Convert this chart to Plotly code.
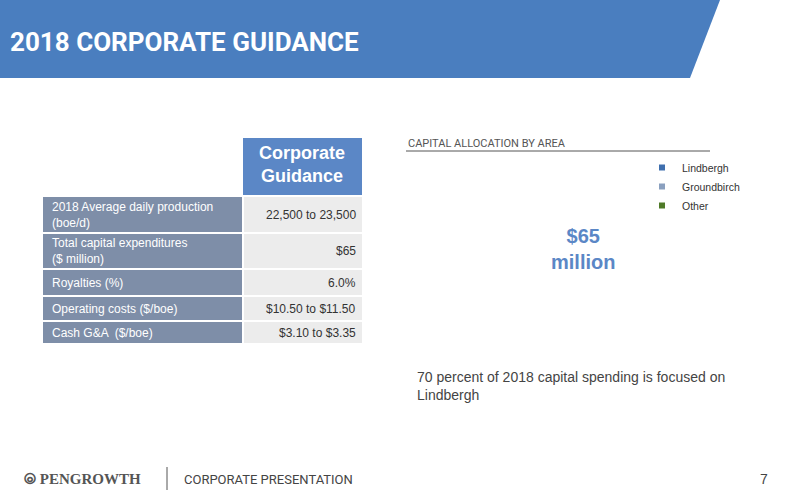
import plotly.graph_objects as go

areas = ["Lindbergh", "Groundbirch", "Other"]
alloc = [70, 20, 10]
legend_colors = ["#3f6fae", "#8aa0bf", "#4f7a28"]
row_labels = ["2018 Average daily production<br>(boe/d)", "Total capital expenditures<br>($ million)",
              "Royalties (%)", "Operating costs ($/boe)", "Cash G&A  ($/boe)"]
row_values = ["22,500 to 23,500", "$65", "6.0%", "$10.50 to $11.50", "$3.10 to $3.35"]
row_bounds = [(197, 232), (234, 268), (270, 295), (297, 320), (322, 343)]

W, H = 800, 500
px = lambda x: x / W
py = lambda y: 1 - y / H

fig = go.Figure()
fig.add_trace(go.Pie(labels=areas, values=alloc, hole=0.6, sort=False,
                     marker=dict(colors=["rgba(0,0,0,0)"] * 3), textinfo="none",
                     showlegend=False, domain=dict(x=[px(490), px(676)], y=[py(345), py(155)])))
for a, c in zip(areas, legend_colors):
    fig.add_trace(go.Scatter(x=[None], y=[None], mode="markers", name=a,
                             marker=dict(symbol="square", size=6, color=c)))

shapes = [
    dict(type="path", path=f"M 0 {py(0)} L {px(720)} {py(0)} L {px(690)} {py(78)} L 0 {py(78)} Z",
         fillcolor="#4a7ebf", line=dict(width=0)),
    dict(type="rect", x0=px(243), x1=px(362), y0=py(195), y1=py(138), fillcolor="#5b87c6", line=dict(width=0)),
    dict(type="line", x0=px(406), x1=px(710), y0=py(151), y1=py(151), line=dict(color="#555", width=1)),
    dict(type="line", x0=px(167), x1=px(167), y0=py(467), y1=py(490), line=dict(color="#555", width=1)),
]
ann = [
    dict(x=px(8), y=py(42), text="<b>2018 CORPORATE GUIDANCE</b>", font=dict(size=26, color="white", family="Roboto"), xanchor="left", yanchor="middle"),
    dict(x=px(302), y=py(164), text="<b>Corporate<br>Guidance</b>", font=dict(size=18, color="white"), xanchor="center", yanchor="middle"),
    dict(x=px(406), y=py(143), text="CAPITAL ALLOCATION BY AREA", font=dict(size=11, color="#555", family="Roboto"), xanchor="left", yanchor="middle"),
    dict(x=px(583), y=py(249), text="<b>$65<br>million</b>", font=dict(size=20, color="#5b87c6"), xanchor="center", yanchor="middle"),
    dict(x=px(415), y=py(386), text="70 percent of 2018 capital spending is focused on<br>Lindbergh", font=dict(size=14, color="#444"), xanchor="left", yanchor="middle", align="left"),
    dict(x=px(22), y=py(479), text="<b>⦾ PENGROWTH</b>", font=dict(size=15, color="#555", family="Liberation Serif"), xanchor="left", yanchor="middle"),
    dict(x=px(182), y=py(479), text="CORPORATE PRESENTATION", font=dict(size=13, color="#444", family="Roboto"), xanchor="left", yanchor="middle"),
    dict(x=px(770), y=py(479), text="7", font=dict(size=14, color="#444"), xanchor="right", yanchor="middle"),
]
for (t, b), lab, val in zip(row_bounds, row_labels, row_values):
    shapes.append(dict(type="rect", x0=px(43), x1=px(242), y0=py(b), y1=py(t), fillcolor="#7e8ea8", line=dict(width=0)))
    shapes.append(dict(type="rect", x0=px(244), x1=px(362), y0=py(b), y1=py(t), fillcolor="#ececec", line=dict(width=0)))
    m = (t + b) / 2
    ann.append(dict(x=px(50), y=py(m), text=lab, font=dict(size=12, color="white"), xanchor="left", yanchor="middle", align="left"))
    ann.append(dict(x=px(358), y=py(m), text=val, font=dict(size=12, color="#333"), xanchor="right", yanchor="middle", align="right"))
for a in ann:
    a.update(xref="paper", yref="paper", showarrow=False)
for s in shapes:
    s.update(xref="paper", yref="paper")

fig.update_layout(width=W, height=H, margin=dict(l=0, r=0, t=0, b=0), paper_bgcolor="white", plot_bgcolor="white",
                  font=dict(family="Liberation Sans, Arial"),
                  xaxis=dict(visible=False, range=[0, 1]), yaxis=dict(visible=False, range=[0, 1]),
                  legend=dict(x=px(642), y=py(153), xanchor="left", yanchor="top", font=dict(size=10.5, color="#333"),
                              itemwidth=30, tracegroupgap=0, bgcolor="rgba(0,0,0,0)"),
                  shapes=shapes, annotations=ann)
fig.write_html("out.html", config=dict(displayModeBar=False))
with open("out.html", encoding="utf-8") as f:
    html = f.read()
html = html.replace("<head>", "<head><style>html,body{margin:0;padding:0;overflow:hidden}</style>", 1)
with open("out.html", "w", encoding="utf-8") as f:
    f.write(html)
